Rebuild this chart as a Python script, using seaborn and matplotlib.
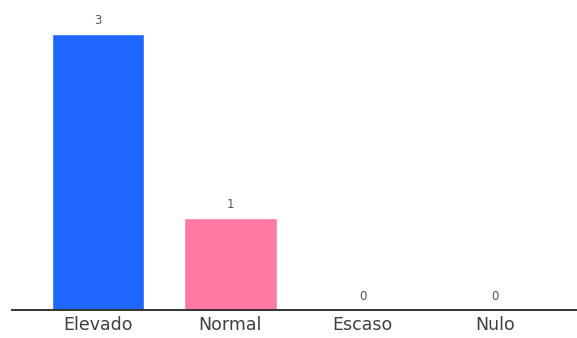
import matplotlib
matplotlib.use("Agg")
import matplotlib.pyplot as plt
import seaborn as sns
import pandas as pd

categories = ["Elevado", "Normal", "Escaso", "Nulo"]
values = [3, 1, 0, 0]
colors = ["#1f66ff", "#ff7aa2", "#7fd6a0", "#f5c542"]

sns.set_theme(style="white")
plt.rcParams["font.family"] = ["DejaVu Sans"]

df = pd.DataFrame({"categoria": categories, "valor": values})

fig = plt.figure(figsize=(5.77, 3.38), dpi=100)
ax = fig.add_axes([12 / 577, 28 / 338, 1 - 12 / 577, 310 / 338])

sns.barplot(data=df, x="categoria", y="valor", hue="categoria",
            palette=colors, width=0.7, saturation=1, legend=False, ax=ax)

for cont in ax.containers:
    ax.bar_label(cont, fmt="%d", padding=5, fontsize=8.5, color="#555555")

ax.set_xlim(-0.65, 3.62)
ax.set_ylim(0, 3.37)
ax.set_xlabel("")
ax.set_ylabel("")
ax.set_yticks([])
ax.tick_params(axis="x", length=0, pad=4, labelsize=12.5, labelcolor="#3f3f3f")
for side in ["top", "right", "left"]:
    ax.spines[side].set_visible(False)
ax.spines["bottom"].set_color("#333333")
ax.spines["bottom"].set_linewidth(1.4)

fig.savefig("out.png", dpi=100, facecolor="white")
